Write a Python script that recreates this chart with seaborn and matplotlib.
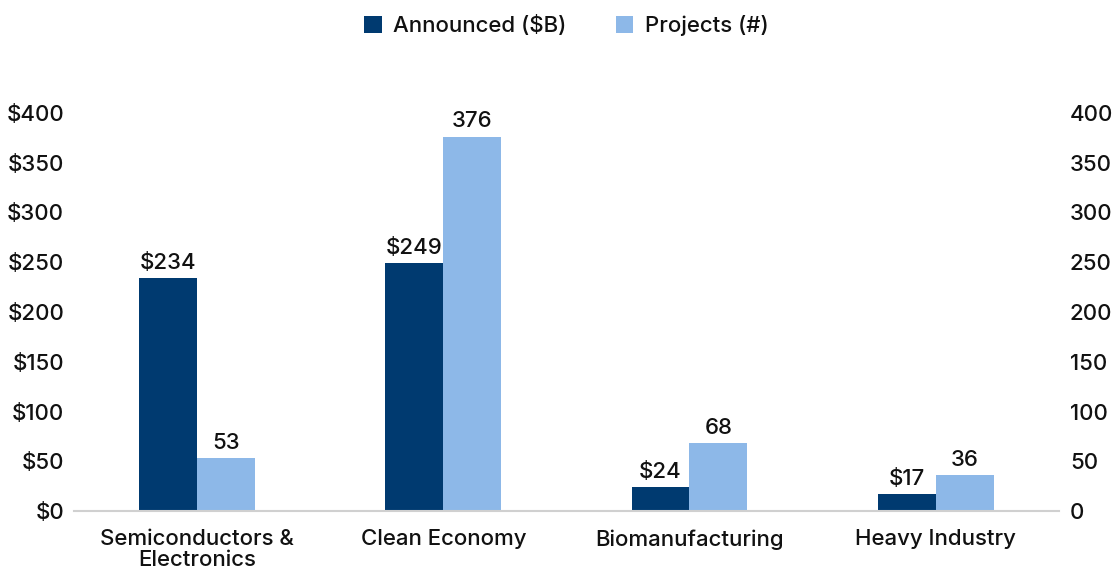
import matplotlib
matplotlib.use("Agg")
import matplotlib.pyplot as plt
import pandas as pd
import seaborn as sns

# Data
categories = ["Semiconductors &\nElectronics", "Clean Economy", "Biomanufacturing", "Heavy Industry"]
announced = [234, 249, 24, 17]
projects = [53, 376, 68, 36]
series_names = ["Announced ($B)", "Projects (#)"]
colors = ["#003A70", "#8DB8E8"]
ticks = [0, 50, 100, 150, 200, 250, 300, 350, 400]

df = pd.DataFrame({
    "category": categories * 2,
    "series": [series_names[0]] * 4 + [series_names[1]] * 4,
    "value": announced + projects,
})

sns.set_style("white")
plt.rcParams["font.family"] = ["Inter", "DejaVu Sans"]
plt.rcParams["font.weight"] = "medium"
plt.rcParams["text.color"] = "#111111"
plt.rcParams["xtick.color"] = "#111111"
plt.rcParams["ytick.color"] = "#111111"

fig = plt.figure(figsize=(11.14, 5.73), dpi=100)
ax = fig.add_axes([0.0664, 0.108, 0.884, 0.695])

sns.barplot(data=df, x="category", y="value", hue="series", order=categories,
            hue_order=series_names, palette=colors, width=0.47, saturation=1,
            errorbar=None, linewidth=0, ax=ax)

ax.set_ylim(0, 400)
ax.set_yticks(ticks)
ax.set_yticklabels([f"${t}" for t in ticks], fontsize=16)
ax.tick_params(axis="x", labelsize=16, length=0, pad=13)
ax.tick_params(axis="y", length=0, pad=7)
ax.set_xlabel("")
ax.set_ylabel("")
for s in ["top", "left", "right"]:
    ax.spines[s].set_visible(False)
ax.spines["bottom"].set_color("#d0d0d0")
ax.spines["bottom"].set_linewidth(1.5)
ax.set_xlim(-0.5, 3.5)
for lbl in ax.get_xticklabels():
    lbl.set_linespacing(1.05)

# right axis, same scale
ax2 = ax.twinx()
ax2.set_ylim(0, 400)
ax2.set_yticks(ticks)
ax2.set_yticklabels([str(t) for t in ticks], fontsize=16)
ax2.tick_params(axis="y", length=0, pad=8)
for s in ["top", "left", "right", "bottom"]:
    ax2.spines[s].set_visible(False)

# value labels
for container, fmt in zip(ax.containers, ["${:.0f}", "{:.0f}"]):
    ax.bar_label(container, labels=[fmt.format(b.get_height()) for b in container],
                 padding=4, fontsize=16, clip_on=False)

ax.legend(loc="center", bbox_to_anchor=(0.5, 1.22), ncol=2, frameon=False,
          fontsize=16, handlelength=0.8, handleheight=0.8, columnspacing=2.2,
          handletextpad=0.5)

fig.savefig("out.png", dpi=100)
